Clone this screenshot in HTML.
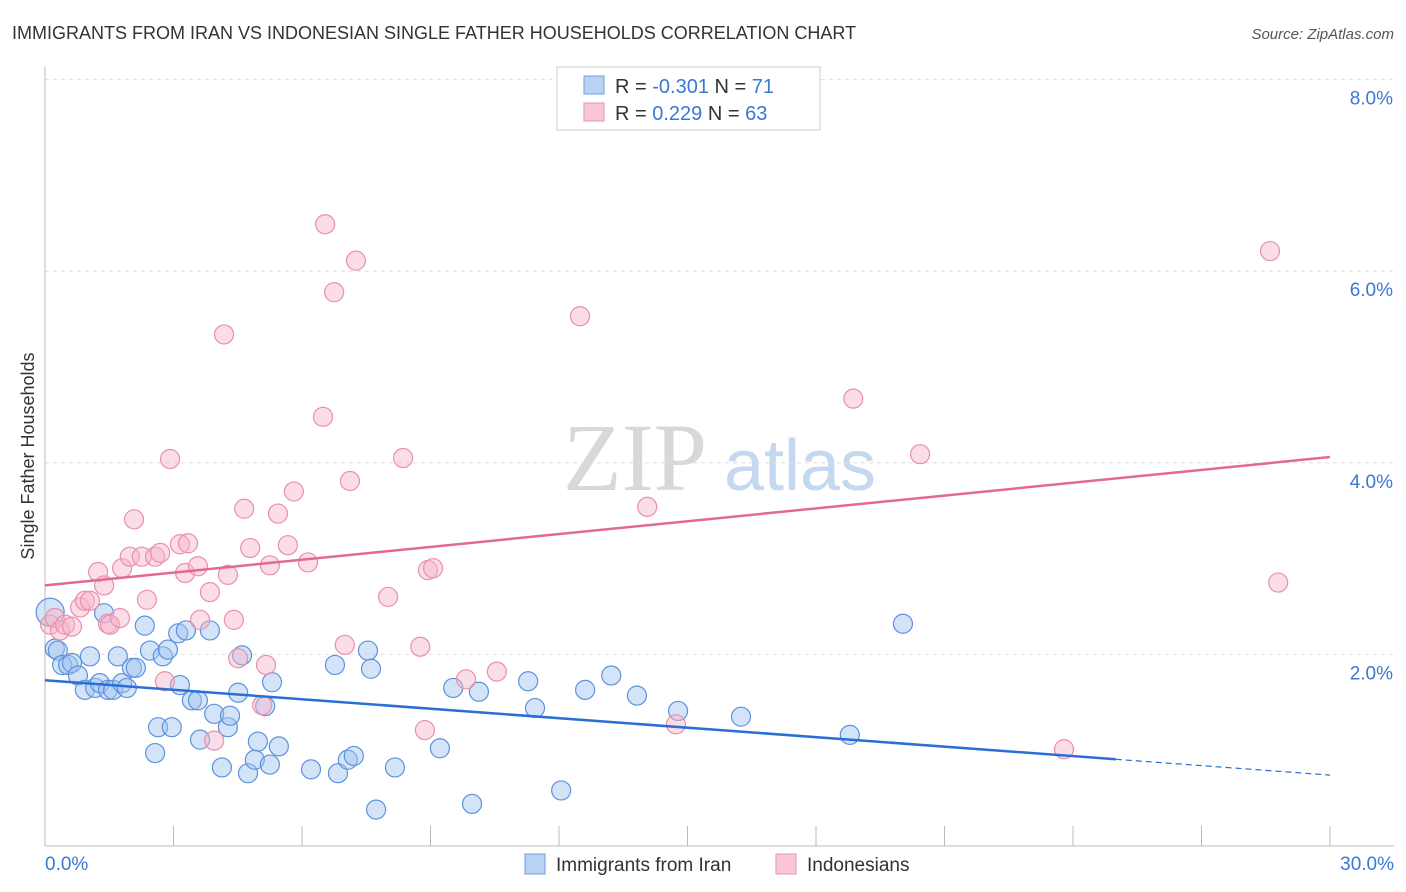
<!DOCTYPE html>
<html><head><meta charset="utf-8"><style>
body{margin:0;background:#fff;font-family:"Liberation Sans",sans-serif}
svg{display:block}
</style></head><body>
<svg id="chart" width="1406" height="892" xmlns="http://www.w3.org/2000/svg" font-family="Liberation Sans, sans-serif">
<text x="12" y="39" font-size="18" fill="#333">IMMIGRANTS FROM IRAN VS INDONESIAN SINGLE FATHER HOUSEHOLDS CORRELATION CHART</text>
<text x="1394" y="39" font-size="15" fill="#555" font-style="italic" text-anchor="end">Source: ZipAtlas.com</text>
<g>
<text x="635" y="490" font-size="96" fill="#d8d8d8" font-family="Liberation Serif, serif" text-anchor="middle">ZIP</text>
<text x="800" y="490" font-size="72" fill="#c5d8f0" text-anchor="middle">atlas</text>
</g>
<g id="grid"></g>
<g id="axes"></g>
<g id="marks"></g>
<text transform="translate(34,456) rotate(-90)" font-size="18" fill="#333" text-anchor="middle">Single Father Households</text>
<g>
<rect x="557" y="67" width="263" height="63" fill="#fff" stroke="#ccc"/>
<rect x="584" y="76" width="20" height="18" fill="#b8d2f4" stroke="#6f9ee0"/>
<rect x="584" y="103" width="20" height="18" fill="#f9c6d6" stroke="#eb94b1"/>
<text x="615" y="93" font-size="20" fill="#333">R = <tspan fill="#3a78d4">-0.301</tspan>   N = <tspan fill="#3a78d4">71</tspan></text>
<text x="615" y="120" font-size="20" fill="#333">R =  <tspan fill="#3a78d4">0.229</tspan>   N = <tspan fill="#3a78d4">63</tspan></text>
</g>
<g>
<rect x="525" y="854" width="20" height="20" fill="#b8d2f4" stroke="#6f9ee0"/>
<text x="556" y="871" font-size="19" fill="#333">Immigrants from Iran</text>
<rect x="776" y="854" width="20" height="20" fill="#f9c6d6" stroke="#eb94b1"/>
<text x="807" y="871" font-size="19" fill="#333">Indonesians</text>
</g>
</svg>
<script>
const xTicks=[0,3,6,9,12,15,18,21,24,27,30];
const yTicks=[2,4,6,8];
const yTickLabels=["2.0%","4.0%","6.0%","8.0%"];
const xEndLabels=["0.0%","30.0%"];
const iranX=[0.12,0.23,0.30,0.40,0.54,0.63,0.77,0.93,1.05,1.17,1.28,1.38,1.47,1.59,1.70,1.80,1.91,2.03,2.12,2.33,2.45,2.57,2.64,2.75,2.87,2.96,3.11,3.15,3.29,3.43,3.57,3.62,3.85,3.95,4.13,4.27,4.32,4.51,4.60,4.74,4.90,4.97,5.14,5.25,5.30,5.46,6.21,6.77,6.84,7.07,7.21,7.54,7.61,7.73,8.17,9.22,9.53,9.97,10.13,11.28,11.44,12.05,12.61,13.22,13.82,14.78,16.25,18.79,20.03];
const iranY=[2.44,2.06,2.04,1.89,1.89,1.91,1.78,1.63,1.98,1.65,1.70,2.43,1.63,1.63,1.98,1.70,1.65,1.86,1.86,2.30,2.04,0.97,1.24,1.98,2.05,1.24,2.22,1.68,2.25,1.52,1.52,1.11,2.25,1.38,0.82,1.24,1.36,1.60,1.99,0.76,0.90,1.09,1.46,0.85,1.71,1.04,0.80,1.89,0.76,0.90,0.94,2.04,1.85,0.38,0.82,1.02,1.65,0.44,1.61,1.72,1.44,0.58,1.63,1.78,1.57,1.41,1.35,1.16,2.32];
const indoX=[0.12,0.23,0.35,0.47,0.63,0.82,0.93,1.05,1.24,1.38,1.47,1.52,1.75,1.80,1.98,2.08,2.26,2.38,2.57,2.69,2.80,2.92,3.15,3.27,3.34,3.57,3.62,3.85,3.95,4.18,4.27,4.41,4.51,4.65,4.79,5.07,5.16,5.25,5.44,5.67,5.81,6.14,6.49,6.54,6.75,7.00,7.12,7.26,8.01,8.36,8.76,8.87,8.94,9.06,9.83,10.55,12.49,14.06,14.73,18.87,20.43,23.79,28.60,28.79];
const indoY=[2.31,2.38,2.25,2.31,2.29,2.49,2.56,2.56,2.86,2.72,2.32,2.31,2.38,2.90,3.02,3.41,3.02,2.57,3.02,3.06,1.72,4.04,3.15,2.85,3.16,2.92,2.36,2.65,1.10,5.34,2.83,2.36,1.96,3.52,3.11,1.47,1.89,2.93,3.47,3.14,3.70,2.96,4.48,6.49,5.78,2.10,3.81,6.11,2.60,4.05,2.08,1.21,2.88,2.90,1.74,1.82,5.53,3.54,1.27,4.67,4.09,1.01,6.21,2.75];
const iranTrend=[1.73,0.74];
const indoTrend=[2.72,4.06];
const iranTrendSolidEnd=25;
const NS="http://www.w3.org/2000/svg";
const X0=45,X1=1330,Y0=846,PXY=95.8;
function sx(v){return X0+(X1-X0)*v/30;}
function sy(v){return Y0-v*PXY;}
function mk(t,a,parent){const e=document.createElementNS(NS,t);for(const k in a)e.setAttribute(k,a[k]);parent.appendChild(e);return e;}
const grid=document.getElementById('grid'),axes=document.getElementById('axes'),marks=document.getElementById('marks');
yTicks.forEach((t,i)=>{
 const l=mk('line',{x1:X0,x2:1394,y1:sy(t),y2:sy(t),stroke:'#ddd','stroke-dasharray':'4,4'},grid);
 
 
 const tx=mk('text',{x:1393,y:sy(t)+25,'font-size':19,fill:'#3a78d4','text-anchor':'end'},axes);
 tx.textContent=yTickLabels[i];
 
 
});
const ax=mk('line',{x1:X0,x2:1394,y1:Y0,y2:Y0,stroke:'#bbb'},axes);


const ay=mk('line',{x1:X0,x2:X0,y1:67,y2:Y0,stroke:'#bbb'},axes);


xTicks.forEach(t=>{
 const l=mk('line',{x1:sx(t),x2:sx(t),y1:Y0,y2:Y0-20,stroke:'#bbb'},axes);
 
 
});
const xl0=mk('text',{x:45,y:870,'font-size':19,fill:'#3a78d4'},axes);xl0.textContent=xEndLabels[0];


const xl1=mk('text',{x:1394,y:870,'font-size':19,fill:'#3a78d4','text-anchor':'end'},axes);xl1.textContent=xEndLabels[1];


iranX.forEach((v,i)=>{
 const r=i===0?14:9.5;
 const c=mk('circle',{cx:sx(v),cy:sy(iranY[i]),r:r,fill:'rgba(160,195,240,0.45)',stroke:'#5d92dc','stroke-width':1.2},marks);
 
 
});
indoX.forEach((v,i)=>{
 const c=mk('circle',{cx:sx(v),cy:sy(indoY[i]),r:9.5,fill:'rgba(246,180,202,0.45)',stroke:'#ea8fad','stroke-width':1.2},marks);
 
 
});
function ty(tr,x){return tr[0]+(tr[1]-tr[0])*x/30;}
const bl=mk('line',{x1:sx(0),y1:sy(iranTrend[0]),x2:sx(iranTrendSolidEnd),y2:sy(ty(iranTrend,iranTrendSolidEnd)),stroke:'#2a6fd6','stroke-width':2.5},marks);


const bd=mk('line',{x1:sx(iranTrendSolidEnd),y1:sy(ty(iranTrend,iranTrendSolidEnd)),x2:sx(30),y2:sy(iranTrend[1]),stroke:'#2a6fd6','stroke-width':1.2,'stroke-dasharray':'6,4'},marks);


const pl=mk('line',{x1:sx(0),y1:sy(indoTrend[0]),x2:sx(30),y2:sy(indoTrend[1]),stroke:'#e4698f','stroke-width':2.5},marks);


</script>
</body></html>
